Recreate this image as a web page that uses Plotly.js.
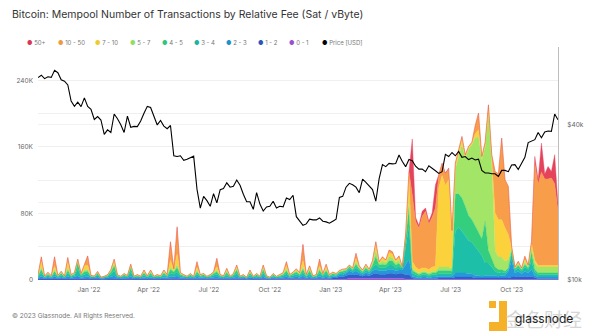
<!DOCTYPE html>
<html>
<head>
<meta charset="utf-8">
<script src="https://cdn.plot.ly/plotly-3.0.1.min.js"></script>
<style>html,body{margin:0;padding:0;background:#fff;}#chart{width:600px;height:336px;}</style>
</head>
<body>
<div id="chart"></div>
<script>
// ---- Data (mempool counts in thousands of transactions, price in thousands of USD) ----
// One sample every 5 days starting 2021-10-16
const startDate = '2021-10-16';
const stepDays = 5;

const price = [
60.9,62.2,60.3,61.3,61,65,63.6,59.7,59,57,
49.4,47.1,48.9,47,50.8,47.1,45.9,41.9,43,41.7,
36.7,38.2,37.3,44,42.2,40,37.3,43.2,39.1,39.4,
39.3,41.3,44.3,47.1,46.6,42.8,39.9,41.5,39.5,38.6,
39.7,30.3,30.1,30.3,29.1,29.4,29.7,30.2,22.5,19,
21.1,20.3,19.3,21.6,19.9,22.4,22.6,23.8,22.9,23.1,
24.4,23.3,21.5,20.1,20.1,18.8,21.8,19.7,18.5,19.2,
19.3,20.2,19,19.3,19.2,20.8,20.5,21.3,17.6,16.9,
16.3,16.5,17.2,17.1,17.1,17.4,16.9,16.8,16.6,16.9,
17.2,20.9,21.1,22.9,23.7,23.4,22.9,21.8,24.6,23.9,
23.1,22.4,20.2,24.7,28,27.5,28.3,28.2,28.3,30.5,
28.8,27.5,29.3,29,27.6,26.9,26.9,26.3,27.7,27.2,
26.5,25.9,26.3,30.7,30.1,31.2,30.3,31.5,29.9,30.1,
29.3,29.7,29.2,29.4,26.6,26,26,25.8,25.8,25.2,
26.6,26.6,26.3,27.9,28,26.8,28.5,29.9,34.1,34.6,
35,37.3,35.6,37.5,37.8,37.7,44,41.8
];

const fee0to1 = [
0,0,0,0,0,0,0,0,0,0,
0,0,0,0,0,0,0,0,0,0,
0,0,0,0,0,0,0,0,0,0,
0,0,0,0,0,0,0,0,0,0,
0,0,0,0,0,0,0,0,0,0,
0,0,0,0,0,0,0,0,0,0,
0,0,0,0,0,0,0,0,0,0,
0,0,0,0,0,0,0,0,0,0,
0,0,0,0,0,0,0,0,0,0.5,
0.5,1,1,1,2,2,2,1.5,1.5,2,
1.5,2,2,2,2,2,2,2,2,2,
2,1,1,0.5,0.5,0.5,0.5,0.5,0.5,0.5,
0.5,0.5,0.5,0.5,0.5,0.5,0.5,0.5,0.5,0.5,
0.5,0.5,0.5,0.5,0.5,0.5,0.5,0.5,0.5,0.5,
0.5,0.5,0.5,0.5,0.5,0.5,0.5,0.5,0.5,0.5,
0.5,0.5,0.5,0.5,0.5,0.5,0.5,0.5
];

const fee1to2 = [
1.5,2,1.5,2,1.5,2,1.5,2,1.5,2,
1.5,2,2,1.5,2,2,1.5,1.5,2,1,
1.2,1.5,2,2,1.5,1.2,1.5,1.5,2,1.2,
1.5,1.2,1.5,1.2,1.5,1.2,1.5,1.2,1.5,1.5,
2,2,2,1.5,1.5,1.2,1.5,1.2,2,1.5,
1.5,1.2,1.5,1.5,2,1.5,1.2,1.5,1.2,1.5,
2,1.2,1.5,1,1.5,1.2,1.5,1.2,2,1.2,
1,1.5,1.2,1.5,1.5,2,1.5,1.5,2,1.5,
2,1.5,2,1.2,1.5,2,1.5,2,1.5,2,
2,3,3,4,5,4,5,4,3,4,
3.5,5,6,5,5,5,6,6,5,6,
6,5,6,2,1,1,1,1,1,1,
1,2,2,2,2,2,3,3,3,3,
3,3,2,2,2,2,2,2,2,2,
2,2,2,3,3,4,3,4,3,4,
2,1,1,1,1,1,1,1
];

const fee2to3 = [
1,2.5,1,1.5,1,2.5,1,1.5,1,2.5,
1.2,1.5,3,1.2,2,2.5,1,1,1.5,0.8,
1,1.2,2,3,1.2,1,1.2,1,2.5,1,
1.2,1,1.5,1,1.5,1,1.2,1,1.5,1.2,
2.5,2,3,1.5,1.2,1,1.2,1,2,1.2,
1.2,1,1.2,1.5,2,1.2,1,1.5,1,1.2,
2,1,1.2,0.8,1.5,1,1.2,1,2,1,
0.8,1.2,1,1.2,1.5,2,1.2,1.5,2,1.5,
3,1.2,2,1,1.2,2.5,1.2,2,1.2,1.5,
1.5,2,2,3,4,3,4,3,2,3,
2.5,4,5,4,4,4,5,5,4,4,
4,12,18,2,2,1,2,2,1,2,
2,2,2,2,2,2,5,5,5,5,
4,4,3,3,2,3,3,3,3,2,
3,3,8,20,5,6,4,6,5,8,
3,2,2,2,2,2,2,2
];

const fee3to4 = [
1.5,4,1,2,1,3,1.2,2.5,1,3.5,
1.5,2,8,2,3,3,1.2,1,2.5,0.8,
1,1.5,3,6,1.5,1,2,1.2,5,1,
1.5,1,3,1.2,3,1,1.5,1.2,3,1.5,
4,3,5,2,1.5,1,2,1,3,1.5,
2,1,1.5,2.5,3,1.5,1.2,3,1,2,
4,1,1.5,0.8,3,1,2,1,4,1.2,
0.8,2,1,1.5,2,3.5,1.5,2.5,3,2,
4,1.5,3.5,1.2,1.5,3.5,2,3.5,1.5,2,
1.5,2,2.5,2,3,2,4,3,2,3,
2,4,6,4,4,4,5,5,4,4,
2,22,40,4,3,2,3,3,2,3,
3,3,3,3,3,3,50,55,50,45,
40,38,35,30,25,15,15,10,5,4,
4,3,2,8,3,4,3,5,4,10,
4,3,3,3,3,3,3,3
];

const fee4to5 = [
1,4,0.5,1.5,0.7,3,0.8,2,0.6,3.5,
1,1.5,7,1.5,3,3,0.8,0.5,2,0.4,
0.6,1,2.5,6,1,0.6,1.5,0.8,5,0.6,
1,0.6,2.5,0.8,2.5,0.6,1,0.8,2.5,1,
4,2.5,5,1.5,1,0.6,1.5,0.6,3,1,
1.5,0.6,1,2,3,1,0.8,3,0.6,1.5,
4,0.6,1,0.4,2.5,0.6,1.5,0.6,4,0.8,
0.4,1.5,0.6,1,1.5,3.5,1,2,2.5,1.5,
4,1,3.5,0.8,1,3.5,1.5,3.5,1,1.5,
1,1.5,2,1.5,2,1.5,4,2,1.5,2.5,
1.5,3,9,3,4,3,5,5,3,4,
1,8,22,3,2,2,2,2,2,2,
2,4,4,4,4,3,45,40,40,35,
30,27,25,22,20,50,15,10,5,4,
3,2,2,4,2,3,2,3,2,10,
3,2,2,2,2,2,2,2
];

const fee5to7 = [
0.5,3,0.3,1,0.4,2,0.5,1,0.3,3,
0.5,1,3,0.8,2,2,0.5,0.3,1,0.2,
0.3,0.5,1.5,3,0.5,0.3,0.8,0.4,2.5,0.3,
0.6,0.3,1.5,0.4,1.5,0.3,0.6,0.4,1.5,0.6,
3,1.5,4,1,0.6,0.3,0.8,0.3,2,0.6,
0.8,0.3,0.6,1,2,0.6,0.4,2,0.3,0.8,
2.5,0.3,0.6,0.2,1.5,0.3,0.8,0.3,2.5,0.4,
0.2,0.8,0.3,0.6,1,2.5,0.6,1,1.5,1,
3,0.6,2.5,0.4,0.6,2.5,0.8,2.5,0.6,1,
0.6,1,1,1,1,1,3,1.5,1,2,
1,2.5,8,2,4,3,5,4,3,4,
0.5,3,8,3,2,2,2,2,2,2,
2,4,4,4,4,4,30,45,65,58,
80,90,105,115,95,90,165,115,20,15,
15,12,10,2,1,2,1,3,1.5,6,
8,7,7,7,7,7,7,7
];

const fee7to10 = [
0.5,7,0.3,0.8,0.3,4,0.3,1,0.3,7,
0.5,0.5,1.5,0.5,5,5,0.3,0.2,0.8,0.1,
0.2,0.3,1,4,0.3,0.2,0.5,0.3,1.5,0.2,
0.4,0.2,1.5,0.3,1.5,0.2,0.4,0.3,1.5,0.4,
8,1.5,12,0.8,0.4,0.2,0.5,0.2,3,0.4,
0.5,0.2,0.4,0.6,4,0.4,0.3,2,0.2,0.5,
2.5,0.2,0.4,0.1,1.5,0.2,0.5,0.2,2.5,0.3,
0.1,0.5,0.2,0.4,0.8,4,0.4,0.6,1.5,0.8,
7,0.4,2,0.3,0.4,3,0.5,3,0.4,0.5,
0.4,0.5,1,0.5,0.5,0.5,4,1,0.5,1.5,
0.5,2,7,1,3,2,5,4,2,3,
0.3,3,30,8,5,4,4,4,4,5,
6,95,110,98,105,40,5,5,5,2,
2,2,5,8,3,3,5,5,45,45,
45,40,30,1,0.5,1,0.5,3,1,5,
3,2,2,2,2,2,2,2
];

const fee10to50 = [
0.3,5,0.2,0.5,0.3,11,0.3,0.5,0.2,5.5,
0.3,0.3,0.5,0.3,1.5,11,0.3,0.2,0.5,0.1,
0.2,0.3,0.5,1,0.3,0.2,0.3,0.2,0.5,0.2,
0.3,0.2,0.5,0.2,0.5,0.2,0.3,0.2,0.5,0.3,
22,1,32,0.5,0.3,0.2,0.3,0.2,7,0.3,
0.3,0.2,0.3,0.4,10,0.3,0.2,1,0.2,0.3,
1,0.2,0.3,0.1,0.5,0.2,0.3,0.2,1,0.2,
0.1,0.3,0.2,0.3,0.5,4.5,0.3,0.4,1,0.5,
19,0.3,1.5,0.2,0.3,8,0.3,2.5,0.3,0.5,
0.3,0.5,0.5,0.5,0.5,0.5,6,1,0.5,1,
0.5,1,3,1,2,1,3,3,1,2,
0.2,1,5,80,55,50,62,68,55,60,
70,15,14,14,13,5,2,3,4,2,
1,1,10,20,1,2,5,5,50,55,
98,58,58,2,0.5,2,0.5,4,1,3,
117,98,112,104,104,105,98,65
];

const fee50plus = [
0,0.5,0,0,0,0.5,0,0,0,0,
0,0,0,0,0,0.5,0,0,0,0,
0,0,0,0,0,0,0,0,0,0,
0,0,0,0,0,0,0,0,0,0,
0.5,0,1,0,0,0,0,0,0,0,
0,0,0,0,0,0,0,0,0,0,
0,0,0,0,0,0,0,0,0,0,
0,0,0,0,0,0,0,0,0,0,
1,0,0,0,0,0,0,0,0,0,
0,0,0,0,0,0,0,0,0,0,
0,0,0,0,0,0,0,0,0,0,
0,0,0,67,5,3,6,4,3,5,
28,1,1,1,1,0,0,0,0,0,
0,0,0,0,0,0,0,0,0,0,
0,0,0,0,0,0,0,0,0,0,
8,5,35,6,15,8,35,8
];

const seriesNames = ['0 - 1','1 - 2','2 - 3','3 - 4','4 - 5','5 - 7','7 - 10','10 - 50','50+'];
const seriesData = [fee0to1, fee1to2, fee2to3, fee3to4, fee4to5, fee5to7, fee7to10, fee10to50, fee50plus];
const seriesColors = ['#9d58d6','#2f5fc9','#2598dc','#1ebfa8','#34cf7e','#a3e567','#fbd23c','#f89d4a','#e5425c'];

const xTickVals = ['2022-01-01','2022-04-01','2022-07-01','2022-10-01','2023-01-01','2023-04-01','2023-07-01','2023-10-01'];
const xTickText = ["Jan '22","Apr '22","Jul '22","Oct '22","Jan '23","Apr '23","Jul '23","Oct '23"];
const yTickVals = [0,40,80,120,160,200,240,280];
const yTickText = ['0','','80K','','160K','','240K',''];
const y2TickVals = [10,20,40,80];
const y2TickText = ['$10k','','$40k',''];

// legend order as shown
const legendNames = ['50+','10 - 50','7 - 10','5 - 7','4 - 5','3 - 4','2 - 3','1 - 2','0 - 1','Price [USD]'];
const legendColors = ['#dc3651','#f09a3e','#f2c92f','#8fdf62','#2fc77a','#1cb5a0','#1f8fd0','#2a56b8','#9b4fd0','#000000'];
const legendPx = [25,55.5,92.5,127.5,159.5,192,224,255.5,287,320];

// ---- Build ----
const t0 = Date.UTC(2021, 9, 16);
const dates = price.map((_, i) => new Date(t0 + i * stepDays * 86400000).toISOString().slice(0, 10));

const traces = seriesData.map((arr, k) => ({
  type: 'scatter', mode: 'lines', x: dates, y: arr, name: seriesNames[k],
  stackgroup: 'mempool', line: {width: 0.4, color: seriesColors[k]},
  fillcolor: seriesColors[k], showlegend: false, hoverinfo: 'skip'
}));
traces.push({
  type: 'scatter', mode: 'lines', x: dates, y: price, name: 'Price [USD]', yaxis: 'y2',
  line: {color: '#000', width: 1.1}, showlegend: false, hoverinfo: 'skip'
});

const F = "Inter, 'Noto Sans', sans-serif";
const plotL = 38, plotR = 558, plotT = 47, plotB = 280;
const px2x = p => (p - plotL) / (plotR - plotL);
const py2y = p => (plotB - p) / (plotB - plotT);

const annotations = legendNames.map((n, k) => ({
  xref: 'paper', yref: 'paper', x: px2x(legendPx[k]), y: py2y(42),
  xanchor: 'left', yanchor: 'middle', showarrow: false,
  text: '<span style="color:' + legendColors[k] + '">●</span> ' + n,
  font: {family: F, size: 6, color: '#777'}
}));
annotations.push({
  xref: 'paper', yref: 'paper', x: px2x(10), y: py2y(14), xanchor: 'left', yanchor: 'middle',
  showarrow: false, text: 'Bitcoin: Mempool Number of Transactions by Relative Fee (Sat / vByte)',
  font: {family: F, size: 10.5, color: '#333'}
});
annotations.push({
  xref: 'paper', yref: 'paper', x: px2x(10), y: py2y(316), xanchor: 'left', yanchor: 'middle',
  showarrow: false, text: '© 2023 Glassnode. All Rights Reserved.',
  font: {family: F, size: 6.5, color: '#777'}
});
annotations.push({
  xref: 'paper', yref: 'paper', x: px2x(544), y: py2y(318), xanchor: 'center', yanchor: 'middle',
  showarrow: false, text: '金色财经',
  font: {family: "'Noto Sans CJK SC', sans-serif", size: 19, color: '#d6d6d6'}
});
annotations.push({
  xref: 'paper', yref: 'paper', x: px2x(544), y: py2y(318), xanchor: 'center', yanchor: 'middle',
  showarrow: false, text: 'glassnode',
  font: {family: F, size: 12, color: '#222'}
});

const shapes = [
  {type: 'rect', xref: 'paper', yref: 'paper', x0: px2x(489), x1: px2x(496), y0: py2y(308), y1: py2y(301), fillcolor: '#f5b12a', line: {width: 0}},
  {type: 'rect', xref: 'paper', yref: 'paper', x0: px2x(499), x1: px2x(507), y0: py2y(331), y1: py2y(301), fillcolor: '#f5b12a', line: {width: 0}},
  {type: 'rect', xref: 'paper', yref: 'paper', x0: px2x(489), x1: px2x(507), y0: py2y(331), y1: py2y(322), fillcolor: '#f5b12a', line: {width: 0}}
];

const layout = {
  width: 600, height: 336,
  margin: {l: plotL, r: 600 - plotR, t: plotT, b: 336 - plotB},
  paper_bgcolor: '#fff', plot_bgcolor: '#fff',
  showlegend: false,
  xaxis: {
    type: 'date', range: ['2021-10-16', '2023-12-10'],
    tickvals: xTickVals, ticktext: xTickText, showgrid: false, zeroline: false,
    showline: false, ticks: '', ticklabelstandoff: 4,
    tickfont: {family: F, size: 6.5, color: '#666'}
  },
  yaxis: {
    range: [0, 280], tickvals: yTickVals, ticktext: yTickText,
    showgrid: true, gridcolor: '#efefef', gridwidth: 1, zeroline: false,
    showline: false, ticks: '', ticklabelstandoff: 4,
    tickfont: {family: F, size: 6.5, color: '#666'}
  },
  yaxis2: {
    type: 'log', range: [1, Math.log10(80)], overlaying: 'y', side: 'right',
    tickvals: y2TickVals, ticktext: y2TickText,
    showgrid: true, gridcolor: '#f2f2f2', zeroline: false,
    showline: true, linecolor: '#bdbdbd', linewidth: 1, ticks: '', ticklabelstandoff: 7,
    tickfont: {family: F, size: 6.5, color: '#666'}
  },
  annotations: annotations,
  shapes: shapes
};

Plotly.newPlot('chart', traces, layout, {staticPlot: true, displayModeBar: false});
</script>
</body>
</html>
